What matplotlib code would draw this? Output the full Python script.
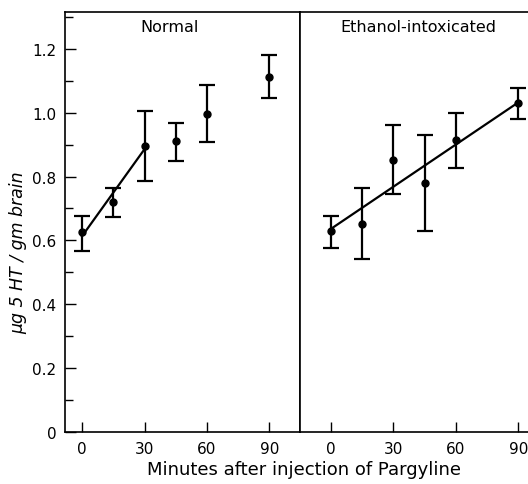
import numpy as np
import matplotlib
matplotlib.use("Agg")
import matplotlib.pyplot as plt
from matplotlib.ticker import MultipleLocator

# Data (minutes after pargyline, ug 5HT / gm brain)
minutes = [0, 15, 30, 45, 60, 90]

normal_mean = [0.625, 0.721, 0.896, 0.913, 0.997, 1.113]
normal_lo = [0.568, 0.672, 0.787, 0.849, 0.907, 1.045]
normal_hi = [0.677, 0.764, 1.005, 0.968, 1.087, 1.182]
normal_fit_x = [0, 30]
normal_fit_y = [0.613, 0.886]

ethanol_mean = [0.630, 0.651, 0.852, 0.781, 0.915, 1.030]
ethanol_lo = [0.577, 0.543, 0.745, 0.630, 0.827, 0.980]
ethanol_hi = [0.675, 0.763, 0.963, 0.930, 1.000, 1.077]
ethanol_fit_x = [0, 90]
ethanol_fit_y = [0.636, 1.033]

panel_titles = ["Normal", "Ethanol-intoxicated"]
x_ticks = [0, 30, 60, 90]
y_ticks = [0, 0.2, 0.4, 0.6, 0.8, 1.0, 1.2]
y_tick_labels = ["0", "0.2", "0.4", "0.6", "0.8", "1.0", "1.2"]

fig = plt.figure(figsize=(5.28, 4.85), dpi=100)
ax1 = fig.add_axes([0.123, 0.108, 0.445, 0.865])
ax2 = fig.add_axes([0.568, 0.108, 0.432, 0.865], sharey=ax1)

panels = [
    (ax1, normal_mean, normal_lo, normal_hi, normal_fit_x, normal_fit_y, (-8.2, 104.6)),
    (ax2, ethanol_mean, ethanol_lo, ethanol_hi, ethanol_fit_x, ethanol_fit_y, (-14.9, 94.6)),
]

for i, (ax, mean, lo, hi, fx, fy, xlim) in enumerate(panels):
    mean = np.array(mean)
    yerr = [mean - np.array(lo), np.array(hi) - mean]
    ax.errorbar(minutes, mean, yerr=yerr, fmt="o", color="black",
                markersize=5, elinewidth=1.6, capsize=6, capthick=1.6)
    ax.plot(fx, fy, color="black", lw=1.6)
    ax.set_xlim(*xlim)
    ax.set_xticks(x_ticks)
    ax.tick_params(axis="x", direction="in", length=7, width=1, labelsize=11, pad=7)
    ax.text(42, 1.272, panel_titles[i], ha="center", va="center", fontsize=11.5)
    for s in ax.spines.values():
        s.set_linewidth(1.2)

ax1.set_ylim(0, 1.316)
ax1.set_yticks(y_ticks)
ax1.set_yticklabels(y_tick_labels)
ax1.yaxis.set_minor_locator(MultipleLocator(0.1))
ax1.tick_params(axis="y", which="major", direction="in", length=8, width=1, labelsize=11, pad=6)
ax1.tick_params(axis="y", which="minor", direction="in", length=6, width=1)
ax1.set_ylabel("µg 5 HT / gm brain", fontsize=12.5, style="italic")
ax1.yaxis.set_label_coords(-0.16, 0.43)

ax2.tick_params(axis="y", which="both", left=False, labelleft=False)
ax2.spines["right"].set_visible(False)

fig.text(0.575, 0.012, "Minutes after injection of Pargyline", ha="center", va="bottom", fontsize=13)

plt.savefig("out.png", dpi=100)
